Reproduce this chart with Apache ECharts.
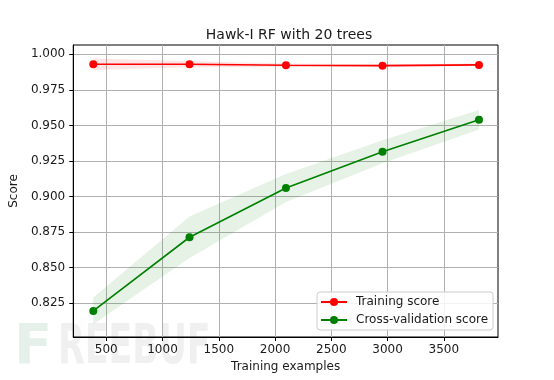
<!DOCTYPE html>
<html><head><meta charset="utf-8">
<script src="https://cdn.jsdelivr.net/npm/echarts@6/dist/echarts.min.js"></script>
<style>html,body{margin:0;padding:0;background:#fff}#c{width:554px;height:380px}</style>
</head><body><div id="c"></div>
<script>
const chartTitle = 'Hawk-I RF with 20 trees';
const trainSizes = [385, 1240, 2097, 2955, 3812];
const trainMean = [0.9930, 0.9930, 0.9923, 0.9920, 0.9925];
const trainStd = [0.0040, 0.0022, 0.0012, 0.0010, 0.0010];
const cvMean = [0.8196, 0.8714, 0.9060, 0.9315, 0.9540];
const cvStd = [0.0094, 0.0146, 0.0098, 0.0081, 0.0068];
const xTicks = [500, 1000, 1500, 2000, 2500, 3000, 3500];
const yTicks = [0.825, 0.850, 0.875, 0.900, 0.925, 0.950, 0.975, 1.000];

const FONT = 'DejaVu Sans';
const TXT = '#1a1a1a';
const chart = echarts.init(document.getElementById('c'), null, {renderer: 'canvas'});

function bandSeries(mean, std, color) {
  return {
    type: 'custom', silent: true, z: 1, clip: true,
    data: [[trainSizes[0], mean[0]]],
    renderItem: function (params, api) {
      const pts = [];
      for (let i = 0; i < trainSizes.length; i++) pts.push(api.coord([trainSizes[i], mean[i] + std[i]]));
      for (let i = trainSizes.length - 1; i >= 0; i--) pts.push(api.coord([trainSizes[i], mean[i] - std[i]]));
      return {type: 'polygon', shape: {points: pts}, style: {fill: color}};
    }
  };
}
function lineSeries(name, mean, color) {
  return {
    name: name, type: 'line', z: 3,
    data: trainSizes.map((x, i) => [x, mean[i]]),
    symbol: 'circle', symbolSize: 8,
    lineStyle: {color: color, width: 1.6},
    itemStyle: {color: color},
    emphasis: {disabled: true}, animation: false
  };
}

chart.setOption({
  animation: false,
  backgroundColor: '#fff',
  title: {
    text: chartTitle, left: 284, textAlign: 'center', top: 23,
    textStyle: {fontFamily: FONT, fontSize: 14, fontWeight: 'normal', color: TXT}
  },
  grid: {left: 69, right: 56, top: 45, bottom: 43, show: true, borderColor: '#000', borderWidth: 1, backgroundColor: 'transparent'},
  graphic: [
    {type: 'text', left: 14, top: 320, z: -10, silent: true,
     style: {text: 'F', font: 'bold 56px DejaVu Sans', fill: '#e6f0ea'}},
    {type: 'text', left: 58, top: 320, z: -10, silent: true, scaleX: 0.62,
     style: {text: 'REEBUF', font: 'bold 56px DejaVu Sans', fill: '#f0f0f0'}}
  ],
  legend: {
    data: ['Training score', 'Cross-validation score'],
    orient: 'vertical', left: 317, top: 292,
    itemWidth: 26, itemHeight: 10, itemGap: 6,
    padding: [4, 5, 4, 3],
    backgroundColor: 'rgba(255,255,255,0.85)', borderColor: '#cccccc', borderWidth: 1, borderRadius: 3,
    textStyle: {fontFamily: FONT, fontSize: 12, color: TXT, padding: [0, 0, 0, 4]},
    selectedMode: false
  },
  xAxis: {
    type: 'value', min: 207, max: 3981,
    name: 'Training examples', nameLocation: 'middle', nameGap: 24,
    nameTextStyle: {fontFamily: FONT, fontSize: 12, color: TXT},
    axisLine: {show: true, lineStyle: {color: '#000', width: 1}},
    axisTick: {show: true, inside: false, length: 4, customValues: xTicks, lineStyle: {color: '#000'}},
    axisLabel: {customValues: xTicks, fontFamily: FONT, fontSize: 12, color: TXT, margin: 7,
      formatter: v => String(v)},
    splitLine: {show: true, lineStyle: {color: '#b0b0b0', width: 1}}
  },
  yAxis: {
    type: 'value', min: 0.8013, max: 1.0065,
    name: 'Score', nameLocation: 'middle', nameGap: 48, nameRotate: 90,
    nameTextStyle: {fontFamily: FONT, fontSize: 12, color: TXT},
    axisLine: {show: true, lineStyle: {color: '#000', width: 1}},
    axisTick: {show: true, inside: false, length: 4, customValues: yTicks, lineStyle: {color: '#000'}},
    axisLabel: {customValues: yTicks, fontFamily: FONT, fontSize: 12, color: TXT, margin: 8,
      formatter: v => v.toFixed(3)},
    splitLine: {show: true, lineStyle: {color: '#b0b0b0', width: 1}}
  },
  series: [
    bandSeries(trainMean, trainStd, 'rgba(255,0,0,0.1)'),
    bandSeries(cvMean, cvStd, 'rgba(0,128,0,0.1)'),
    lineSeries('Training score', trainMean, '#ff0000'),
    lineSeries('Cross-validation score', cvMean, '#008000')
  ]
});
</script></body></html>
